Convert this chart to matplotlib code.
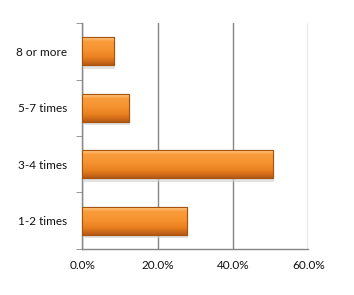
import numpy as np
import matplotlib
matplotlib.use('Agg')
import matplotlib.pyplot as plt
from matplotlib.colors import LinearSegmentedColormap
from matplotlib.ticker import FuncFormatter

categories = ['1-2 times', '3-4 times', '5-7 times', '8 or more']
values = [27.8, 50.5, 12.4, 8.4]
xticks = [0, 20, 40, 60]

plt.rcParams['font.family'] = ['Lato', 'DejaVu Sans']

fig = plt.figure(figsize=(3.54, 2.95), dpi=100)
ax = fig.add_axes([0.233, 0.156, 0.638, 0.766])

# vertical gradient for the bars: dark bottom, orange body, thin light top
cmap = LinearSegmentedColormap.from_list(
    'bar', [(0.0, '#B65A16'), (0.25, '#E9801F'), (0.55, '#F79431'),
            (0.82, '#F99B3A'), (1.0, '#FFD49A')])
grad = np.linspace(1, 0, 64).reshape(-1, 1)

ypos = np.arange(len(categories))
bars = ax.barh(ypos, values, height=0.5, color='#F7952F',
               edgecolor='#A65310', linewidth=0.8, zorder=3)
for b in bars:
    x0, y0 = b.get_x(), b.get_y()
    w, h = b.get_width(), b.get_height()
    # soft shadow under the bar
    ax.add_patch(plt.Rectangle((x0 + 0.3, y0 - 0.06), w, h, color='#D0D0D0',
                               alpha=0.6, zorder=2, linewidth=0))
    im = ax.imshow(grad, cmap=cmap, aspect='auto', origin='upper',
                   extent=[x0, x0 + w, y0, y0 + h], zorder=3.5)
    im.set_clip_path(b)
    ax.add_patch(plt.Rectangle((x0, y0), w, h, fill=False,
                               edgecolor='#A65310', linewidth=0.8, zorder=4))

ax.set_xlim(0, 60)
ax.set_ylim(-0.5, len(categories) - 0.5)
ax.set_xticks(xticks)
ax.xaxis.set_major_formatter(FuncFormatter(lambda v, p: '%.1f%%' % v))
ax.set_yticks(ypos)
ax.set_yticklabels(categories)
ax.set_yticks(np.arange(-0.5, len(categories)), minor=True)

ax.grid(axis='x', color='#868686', linewidth=1.0, zorder=0)
for s in ['top', 'right']:
    ax.spines[s].set_visible(False)
for s in ['left', 'bottom']:
    ax.spines[s].set_color('#868686')
    ax.spines[s].set_linewidth(1.0)

ax.tick_params(axis='y', which='major', length=0, pad=11, labelsize=8.5,
               labelcolor='#111111')
ax.tick_params(axis='y', which='minor', length=4, color='#868686', direction='out')
ax.tick_params(axis='x', length=0, pad=8, labelsize=8.5, labelcolor='#111111')

fig.savefig('out.png', dpi=100)
